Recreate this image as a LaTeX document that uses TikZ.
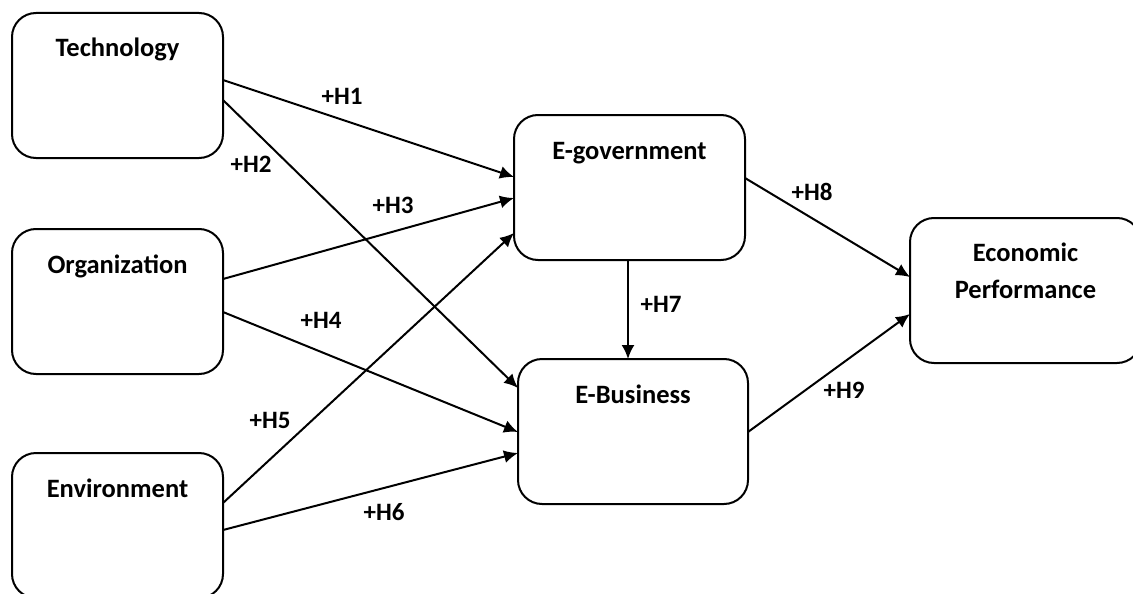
\documentclass[tikz,border=0pt]{standalone}
\usepackage{fontspec}
\setmainfont{Carlito}
\usetikzlibrary{arrows.meta,calc}
\begin{document}
\begin{tikzpicture}[x=1pt,y=-1pt,
  box/.style={draw=black, line width=2pt, rounded corners=24pt, outer sep=0pt, inner sep=0pt,
    anchor=north west, minimum width=211pt, minimum height=145pt, fill=white},
  wbox/.style={box, minimum width=231pt},
  boxtext/.style={anchor=base, font=\fontsize{26.5}{32}\selectfont\bfseries, inner sep=0pt},
  hyp/.style={font=\fontsize{25}{30}\selectfont\bfseries, inner sep=0pt},
  conn/.style={line width=2pt, -{Latex[length=14pt,width=13pt]}},
  plain/.style={line width=2pt}
]
\useasboundingbox (0,0) rectangle (1133,594);

\node[box] (tech) at (12,13) {};
\node[box] (org) at (12,229) {};
\node[box] (env) at (12,453) {};
\node[wbox] (egov) at (514,115) {};
\node[wbox, minimum width=230pt] (ebus) at (518,359) {};
\node[wbox] (econ) at (910,218) {};

\node[boxtext] (ttech) at ($(tech.north)+(0,44)$) {Technology};
\node[boxtext] (torg) at ($(org.north)+(0,44)$) {Organization};
\node[boxtext] (tenv) at ($(env.north)+(0,44)$) {Environment};
\node[boxtext] (tegov) at ($(egov.north)+(0,44)$) {E-government};
\node[boxtext] (tebus) at ($(ebus.north)+(0,44)$) {E-Business};
\node[boxtext] (tecon1) at ($(econ.north)+(0,43)$) {Economic};
\node[boxtext] (tecon2) at ($(econ.north)+(0,80)$) {Performance};

% connectors
\draw[conn] ($(tech.north east)+(0,67)$) -- ($(egov.north west)+(0,62)$);
\draw[conn] ($(tech.north east)+(0,87)$) -- ($(ebus.north west)+(0,29)$);
\draw[conn] ($(org.north east)+(0,50)$) -- ($(egov.north west)+(0,83)$);
\draw[conn] ($(org.north east)+(0,83)$) -- ($(ebus.north west)+(0,73)$);
\draw[conn] ($(env.north east)+(0,50)$) -- ($(egov.north west)+(0,118)$);
\draw[conn] ($(env.north east)+(0,77)$) -- ($(ebus.north west)+(0,94)$);
\draw[conn] ($(egov.south west)+(114,0)$) -- ($(ebus.north west)+(110,0)$);
\draw[conn] ($(egov.north east)+(0,63)$) -- ($(econ.north west)+(0,59)$);
\draw[conn] ($(ebus.north east)+(0,73)$) -- ($(econ.north west)+(0,96)$);

% labels
\node[hyp] (h1) at (342,96) {+H1};
\node[hyp] (h2) at (251,164) {+H2};
\node[hyp] (h3) at (393,205) {+H3};
\node[hyp] (h4) at (321,320) {+H4};
\node[hyp] (h5) at (270,420) {+H5};
\node[hyp] (h6) at (384,512) {+H6};
\node[hyp] (h7) at (661,304) {+H7};
\node[hyp] (h8) at (812,192) {+H8};
\node[hyp] (h9) at (844,390) {+H9};
\end{tikzpicture}
\end{document}
